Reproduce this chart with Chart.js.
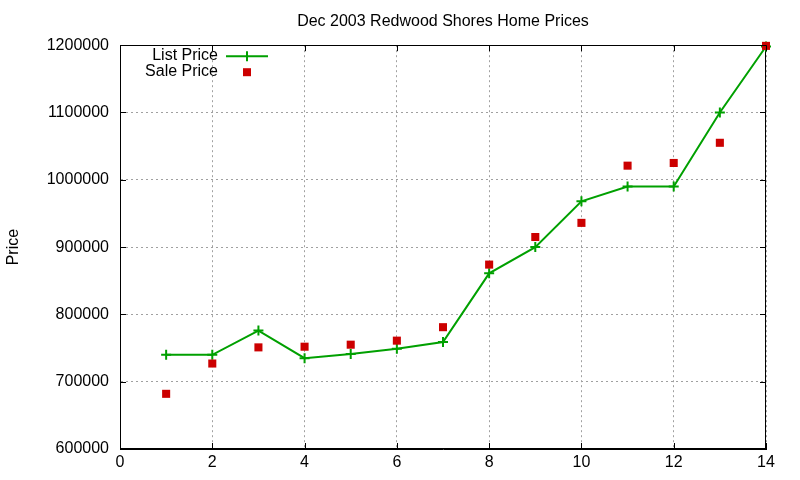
<!DOCTYPE html>
<html>
<head>
<meta charset="utf-8">
<script src="https://cdn.jsdelivr.net/npm/chart.js@4.4.0/dist/chart.umd.min.js"></script>
<style>
  html, body { margin: 0; padding: 0; background: #fff; }
  #wrap { width: 800px; height: 480px; }
</style>
</head>
<body>
<div id="wrap"><canvas id="c" width="800" height="480"></canvas></div>
<script>
// data
const months = [1, 2, 3, 4, 5, 6, 7, 8, 9, 10, 11, 12, 13, 14];
const listPrice = [740000, 740000, 776000, 735000, 741000, 749000, 759000,
                   861000, 900000, 968000, 990000, 990000, 1100000, 1198000];
const salePrice = [682000, 727000, 751000, 752000, 755000, 761000, 781000,
                   874000, 915000, 936000, 1021000, 1025000, 1055000, 1199000];
const xTicks = [0, 2, 4, 6, 8, 10, 12, 14];
const yTicks = [600000, 700000, 800000, 900000, 1000000, 1100000, 1200000];

const FONT = 'Liberation Sans, Arial, sans-serif';
const GREEN = '#00a000';
const RED = '#cc0000';

// gnuplot style ticks pointing into the plot, on all four sides
const innerTicks = {
  id: 'innerTicks',
  afterDraw(chart) {
    const { ctx, chartArea: a, scales } = chart;
    const len = 6;
    ctx.save();
    ctx.strokeStyle = '#000';
    ctx.lineWidth = 1;
    ctx.beginPath();
    xTicks.forEach(v => {
      const x = Math.round(scales.x.getPixelForValue(v)) + 0.5;
      ctx.moveTo(x, a.bottom); ctx.lineTo(x, a.bottom - len);
      ctx.moveTo(x, a.top); ctx.lineTo(x, a.top + len);
    });
    yTicks.forEach(v => {
      const y = Math.round(scales.y.getPixelForValue(v)) + 0.5;
      ctx.moveTo(a.left, y); ctx.lineTo(a.left + len, y);
      ctx.moveTo(a.right, y); ctx.lineTo(a.right - len, y);
    });
    ctx.stroke();
    ctx.restore();
  }
};

// key in the top left corner: text right aligned, sample after it
const keyBox = {
  id: 'keyBox',
  afterDraw(chart) {
    const { ctx, chartArea: a } = chart;
    const textRight = a.left + 98;
    const sx = a.left + 106, ex = a.left + 148, mx = (sx + ex) / 2;
    ctx.save();
    ctx.font = '16px ' + FONT;
    ctx.fillStyle = '#000';
    ctx.textAlign = 'right';
    ctx.textBaseline = 'middle';
    ctx.fillText('List Price', textRight, a.top + 10);
    ctx.fillText('Sale Price', textRight, a.top + 26);
    ctx.strokeStyle = GREEN;
    ctx.lineWidth = 2;
    ctx.beginPath();
    ctx.moveTo(sx, a.top + 11); ctx.lineTo(ex, a.top + 11);
    ctx.moveTo(mx, a.top + 6); ctx.lineTo(mx, a.top + 16);
    ctx.stroke();
    ctx.fillStyle = RED;
    ctx.fillRect(mx - 4, a.top + 23, 8, 8);
    ctx.restore();
  }
};

new Chart(document.getElementById('c'), {
  type: 'scatter',
  data: {
    datasets: [
      {
        label: 'List Price',
        data: months.map((m, i) => ({ x: m, y: listPrice[i] })),
        showLine: true,
        clip: false,
        borderColor: GREEN,
        backgroundColor: GREEN,
        borderWidth: 2,
        pointStyle: 'cross',
        pointRadius: 5,
        pointBorderWidth: 2,
        order: 2
      },
      {
        label: 'Sale Price',
        data: months.map((m, i) => ({ x: m, y: salePrice[i] })),
        showLine: false,
        clip: false,
        borderColor: RED,
        backgroundColor: RED,
        pointStyle: 'rect',
        pointRadius: 5.7,
        pointBorderWidth: 0,
        order: 1
      }
    ]
  },
  options: {
    responsive: false,
    animation: false,
    devicePixelRatio: 1,
    layout: { padding: { left: 0, right: 34, top: 0, bottom: 0 } },
    plugins: {
      legend: { display: false },
      tooltip: { enabled: false },
      title: {
        display: true,
        fullSize: false,
        text: 'Dec 2003 Redwood Shores Home Prices',
        color: '#000',
        font: { family: FONT, size: 16, weight: 'normal' },
        padding: { top: 12, bottom: 14 }
      }
    },
    scales: {
      x: {
        type: 'linear',
        min: 0, max: 14,
        afterBuildTicks: s => { s.ticks = xTicks.map(v => ({ value: v })); },
        afterFit: s => { s.height = 31; },
        ticks: { color: '#000', font: { family: FONT, size: 16 }, padding: 4, maxRotation: 0 },
        grid: { color: '#a0a0a0', drawTicks: false },
        border: { color: '#000', width: 1, dash: [2, 3] }
      },
      y: {
        min: 600000, max: 1200000,
        afterBuildTicks: s => { s.ticks = yTicks.map(v => ({ value: v })); },
        afterFit: s => { s.width = 120; },
        title: {
          display: true, text: 'Price', color: '#000',
          font: { family: FONT, size: 16 }, padding: { top: 4, bottom: 0 }
        },
        ticks: {
          color: '#000', font: { family: FONT, size: 16 }, padding: 11,
          callback: v => String(v)
        },
        grid: { color: '#a0a0a0', drawTicks: false },
        border: { color: '#000', width: 1, dash: [2, 3] }
      }
    }
  },
  plugins: [
    {
      // solid frame round the plot
      id: 'frame',
      beforeDatasetsDraw(chart) {
        const { ctx, chartArea: a } = chart;
        ctx.save();
        ctx.strokeStyle = '#000';
        ctx.lineWidth = 1;
        ctx.strokeRect(Math.round(a.left) + 0.5, Math.round(a.top) + 0.5,
                       Math.round(a.width) - 1, Math.round(a.height) - 1);
        ctx.restore();
      }
    },
    innerTicks, keyBox
  ]
});
</script>
</body>
</html>
